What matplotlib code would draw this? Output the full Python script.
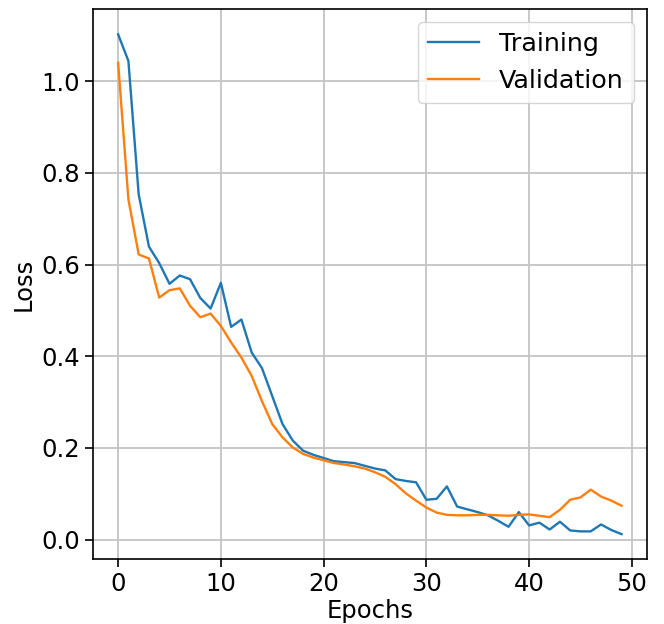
from matplotlib import pyplot as plt
import numpy as np

epochs = np.arange(50)

train_loss = [1.102, 1.044, 0.753, 0.639, 0.603, 0.558, 0.576, 0.568, 0.527, 0.504,
              0.560, 0.464, 0.480, 0.408, 0.374, 0.313, 0.252, 0.216, 0.194, 0.185,
              0.178, 0.171, 0.169, 0.167, 0.161, 0.155, 0.151, 0.132, 0.128, 0.125,
              0.087, 0.089, 0.116, 0.072, 0.066, 0.060, 0.053, 0.041, 0.028, 0.060,
              0.031, 0.037, 0.022, 0.039, 0.020, 0.018, 0.018, 0.033, 0.021, 0.012]

val_loss = [1.040, 0.742, 0.622, 0.613, 0.528, 0.544, 0.548, 0.510, 0.485, 0.493,
            0.466, 0.430, 0.397, 0.357, 0.302, 0.252, 0.223, 0.201, 0.187, 0.179,
            0.173, 0.167, 0.164, 0.160, 0.155, 0.147, 0.137, 0.121, 0.101, 0.085,
            0.070, 0.059, 0.054, 0.053, 0.053, 0.054, 0.054, 0.053, 0.052, 0.054,
            0.055, 0.052, 0.049, 0.065, 0.087, 0.092, 0.109, 0.094, 0.085, 0.074]

plt.rcParams['font.size'] = 17.5

fig = plt.figure(figsize=(6.64, 6.24), dpi=100)
ax = fig.add_axes([0.140, 0.104, 0.834, 0.881])
ax.plot(epochs, train_loss, color='#1f77b4', lw=1.7, label='Training')
ax.plot(epochs, val_loss, color='#ff7f0e', lw=1.7, label='Validation')
ax.set_xlabel('Epochs', labelpad=2)
ax.set_ylabel('Loss', labelpad=4)
ax.set_yticks([0.0, 0.2, 0.4, 0.6, 0.8, 1.0])
ax.tick_params(length=6, width=1.2)
for s in ax.spines.values():
    s.set_linewidth(1.2)
ax.grid(True, color='#c4c4c4', linewidth=1.3)
ax.legend(loc='upper right', fontsize=18.3)
fig.savefig('out.png', dpi=100)
plt.close()
